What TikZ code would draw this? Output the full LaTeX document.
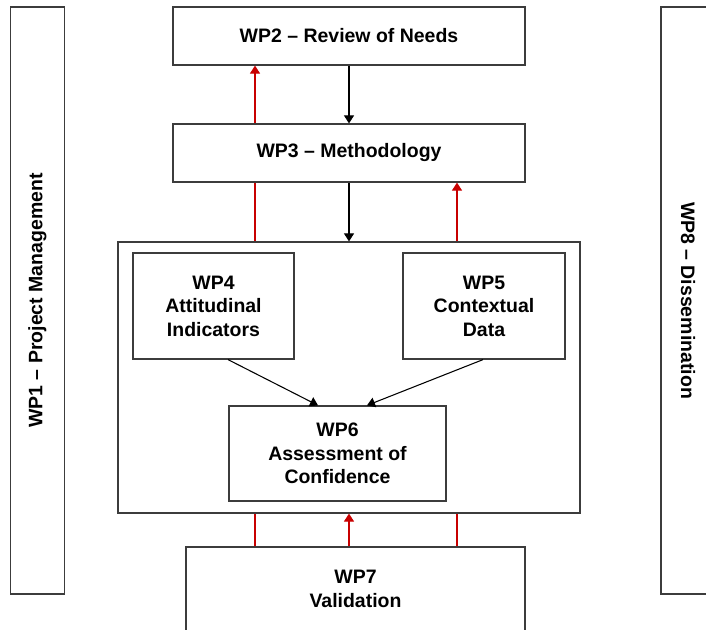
\documentclass[tikz,border=0pt]{standalone}
\usepackage{fontspec}
\setmainfont{Liberation Sans}
\usetikzlibrary{arrows.meta}
\definecolor{wpred}{RGB}{200,0,0}
\definecolor{wpline}{RGB}{60,60,60}
\begin{document}
\begin{tikzpicture}[x=0.75pt,y=-0.75pt,
        wp/.style={draw=wpline,line width=0.9pt,fill=white,inner sep=0pt,align=center,
            font=\fontsize{14.6}{17.6}\selectfont\bfseries},
        flow/.style={-{Triangle[length=6pt,width=7.5pt]},line width=0.8pt},
        back/.style={wpred,line width=0.9pt},
        backarr/.style={back,-{Triangle[length=6pt,width=7.5pt]}}]
        \useasboundingbox (0,0) rectangle (706,629);
        \clip (0,0) rectangle (706,629);
        \node [wp,rotate=90,minimum width=440.25pt,minimum height=40.5pt] (wp1) at (37.5,300.5) {WP1 -- Project Management};
        \node [wp,rotate=-90,minimum width=440.25pt,minimum height=40.5pt] (wp8) at (688,300.5) {WP8 -- Dissemination};
        \node [wp,minimum width=264pt,minimum height=43.5pt] (wp2) at (349,36) {WP2 -- Review of Needs};
        \node [wp,minimum width=264pt,minimum height=43.5pt] (wp3) at (349,153) {WP3 -- Methodology};
        \node [wp,minimum width=346.5pt,minimum height=203.25pt] (core) at (349,377.5) {};
        \node [wp,minimum width=120.75pt,minimum height=79.5pt] (wp4) at (213.5,306) {WP4\\Attitudinal\\Indicators};
        \node [wp,minimum width=121.5pt,minimum height=79.5pt] (wp5) at (484,306) {WP5\\Contextual\\Data};
        \node [wp,minimum width=162.75pt,minimum height=71.25pt] (wp6) at (337.5,453.5) {WP6\\Assessment of\\Confidence};
        \node [wp,minimum width=254.25pt,minimum height=63pt] (wp7) at (355.5,589) {WP7\\Validation};
        \coordinate (l) at (255,0);
        \coordinate (r) at (457,0);
        \draw [flow] (wp2) -- (wp3);
        \draw [flow] (wp3) -- (core);
        \draw [backarr] (wp3.north -| l) -- (wp2.south -| l);
        \draw [back] (core.north -| l) -- (wp3.south -| l);
        \draw [backarr] (core.north -| r) -- (wp3.south -| r);
        \draw [back] (wp7.north -| l) -- (core.south -| l);
        \draw [backarr] (wp7.north -| core.south) -- (core.south);
        \draw [back] (wp7.north -| r) -- (core.south -| r);
        \draw [flow] ([xshift=10.9pt]wp4.south) -- ([xshift=-14.6pt]wp6.north);
        \draw [flow] ([xshift=-0.75pt]wp5.south) -- ([xshift=22.1pt]wp6.north);
    \end{tikzpicture}
\end{document}
